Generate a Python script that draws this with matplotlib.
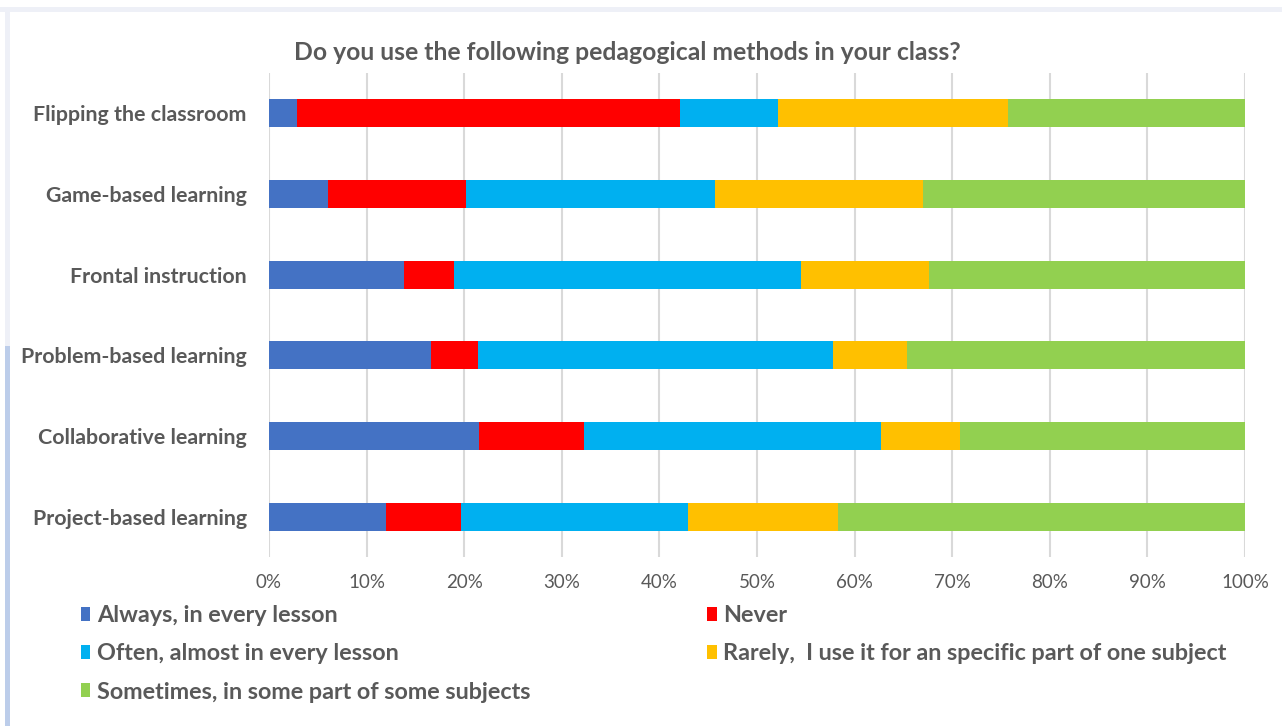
import matplotlib
matplotlib.use("Agg")
import matplotlib.pyplot as plt
from matplotlib.patches import Rectangle
from matplotlib.ticker import PercentFormatter

categories = ["Project-based learning", "Collaborative learning", "Problem-based learning",
              "Frontal instruction", "Game-based learning", "Flipping the classroom"]
series_names = ["Always, in every lesson", "Never", "Often, almost in every lesson",
                "Rarely,  I use it for an specific part of one subject",
                "Sometimes, in some part of some subjects"]
always = [12.0, 21.5, 16.6, 13.8, 6.0, 2.9]
never = [7.7, 10.8, 4.8, 5.2, 14.2, 39.2]
often = [23.2, 30.4, 36.4, 35.5, 25.5, 10.1]
rarely = [15.4, 8.1, 7.6, 13.1, 21.3, 23.5]
sometimes = [41.7, 29.2, 34.6, 32.4, 33.0, 24.3]
colors = ["#4472C4", "#FF0000", "#00B0F0", "#FFC000", "#92D050"]
xticks = list(range(0, 101, 10))

FONT = ["Lato", "DejaVu Sans"]
GREY = "#595959"

W, H = 1282, 726
fig = plt.figure(figsize=(W / 100, H / 100), dpi=100)
fig.patch.set_facecolor("white")

# screenshot frame decoration
fig.add_artist(Rectangle((0, 1 - 12 / H), 1, 5 / H, transform=fig.transFigure,
                         facecolor="#eef0f7", edgecolor="none"))
fig.add_artist(Rectangle((5 / W, 0), 5 / W, 1 - 7 / H, transform=fig.transFigure,
                         facecolor="#eef0f7", edgecolor="none"))
fig.add_artist(Rectangle((5 / W, 0), 5 / W, 380 / H, transform=fig.transFigure,
                         facecolor="#bccdea", edgecolor="none"))

ax = fig.add_axes([269 / W, 1 - 557 / H, (1245 - 269) / W, (557 - 73) / H])

data = [always, never, often, rarely, sometimes]
left = [0.0] * len(categories)
handles = []
for name, vals, c in zip(series_names, data, colors):
    b = ax.barh(range(len(categories)), vals, left=left, height=0.35, color=c,
                label=name, edgecolor="none", zorder=3)
    handles.append(b)
    left = [l + v for l, v in zip(left, vals)]

ax.set_xlim(0, 100)
ax.set_ylim(-0.5, len(categories) - 0.5)
ax.set_xticks(xticks)
ax.xaxis.set_major_formatter(PercentFormatter(decimals=0))
ax.set_yticks(range(len(categories)))
ax.set_yticklabels(categories, fontsize=15.4, fontweight="bold", color=GREY, family=FONT)
for lbl in ax.get_xticklabels():
    lbl.set_fontsize(13.5)
    lbl.set_color(GREY)
    lbl.set_family(FONT)
ax.tick_params(axis="both", length=0)
ax.tick_params(axis="y", pad=16)
ax.tick_params(axis="x", pad=12)
ax.grid(axis="x", color="#d9d9d9", linewidth=1.5, zorder=0)
for s in ax.spines.values():
    s.set_visible(False)

fig.text(627.5 / W, 1 - 53 / H, "Do you use the following pedagogical methods in your class?",
         ha="center", va="center", fontsize=17.8, fontweight="bold", color=GREY, family=FONT)

order = [0, 2, 4, 1, 3]
leg = fig.legend([handles[i] for i in order], [series_names[i] for i in order],
                 loc="upper left", bbox_to_anchor=(81 / W, 1 - 605 / H), ncol=2,
                 frameon=False, borderpad=0, borderaxespad=0,
                 handlelength=0.4, handleheight=0.55, handletextpad=0.27,
                 columnspacing=7.6, labelspacing=0.74,
                 prop={"family": FONT, "size": 16.8, "weight": "bold"})
for t in leg.get_texts():
    t.set_color(GREY)

fig.savefig("out.png", dpi=100, facecolor="white")
